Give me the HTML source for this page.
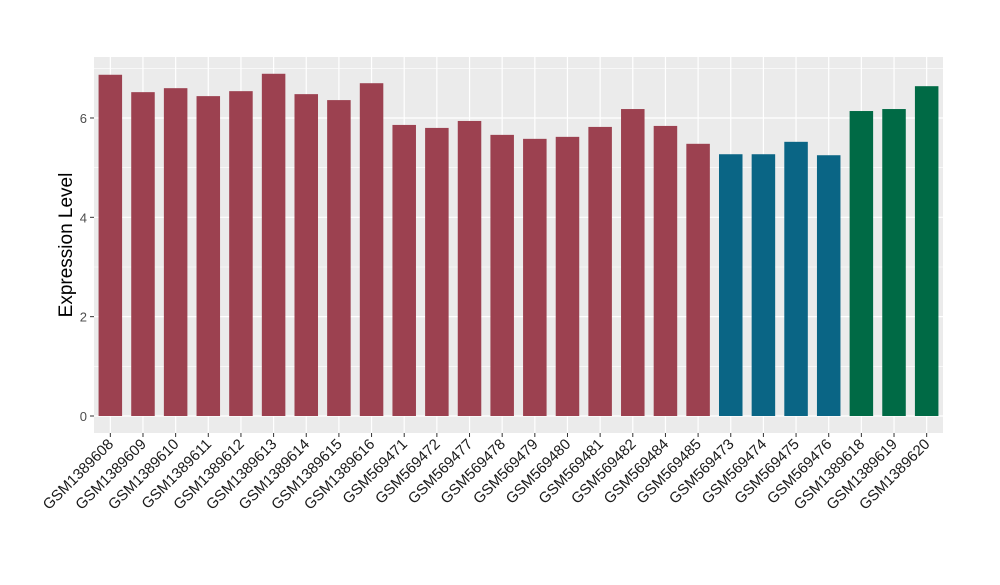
<!DOCTYPE html>
<html><head><meta charset="utf-8"><style>
body{margin:0;background:#fff;font-family:"Liberation Sans",sans-serif;}
</style></head><body>
<svg id="chart" width="1000" height="580" xmlns="http://www.w3.org/2000/svg"></svg>
<script>
const categories=["GSM1389608","GSM1389609","GSM1389610","GSM1389611","GSM1389612","GSM1389613","GSM1389614","GSM1389615","GSM1389616","GSM569471","GSM569472","GSM569477","GSM569478","GSM569479","GSM569480","GSM569481","GSM569482","GSM569484","GSM569485","GSM569473","GSM569474","GSM569475","GSM569476","GSM1389618","GSM1389619","GSM1389620"];
const values=[6.87,6.52,6.60,6.44,6.54,6.89,6.48,6.36,6.70,5.86,5.80,5.94,5.66,5.58,5.62,5.82,6.18,5.84,5.48,5.27,5.27,5.52,5.25,6.14,6.18,6.64];
const groups=[0,0,0,0,0,0,0,0,0,0,0,0,0,0,0,0,0,0,0,1,1,1,1,2,2,2];
const groupColors=["#9c4150","#0a6585","#006a45"];
const yTicks=[0,2,4,6];
const yMinor=[1,3,5,7];

const svg=document.getElementById('chart');
const NS="http://www.w3.org/2000/svg";
const px0=94,px1=943,py0=57,py1=433;
const yScale=v=>416-v*49.67;
const step=(px1-px0)/categories.length;
const xScale=i=>px0+step*(i+0.5);
const barW=step*0.72;
function mk(tag,attrs,parent){const e=document.createElementNS(NS,tag);for(const k in attrs)e.setAttribute(k,attrs[k]);(parent||svg).appendChild(e);return e;}

const panel=mk('rect',{x:px0,y:py0,width:px1-px0,height:py1-py0,fill:'#ebebeb'});


yMinor.forEach(v=>{const y=yScale(v);if(y>py0){const l=mk('line',{x1:px0,x2:px1,y1:y,y2:y,stroke:'#fff','stroke-width':0.6});

}});
yTicks.forEach(v=>{const y=yScale(v);const l=mk('line',{x1:px0,x2:px1,y1:y,y2:y,stroke:'#fff','stroke-width':1.2});


const t=mk('line',{x1:px0-4,x2:px0,y1:y,y2:y,stroke:'#333','stroke-width':1});


const lb=mk('text',{x:px0-7,y:y+5,'text-anchor':'end','font-size':13,fill:'#4d4d4d'});lb.textContent=v;

});
categories.forEach((c,i)=>{const x=xScale(i);
const g=mk('line',{x1:x,x2:x,y1:py0,y2:py1,stroke:'#fff','stroke-width':1.2});


const b=mk('rect',{x:x-barW/2,y:yScale(values[i]),width:barW,height:yScale(0)-yScale(values[i]),fill:groupColors[groups[i]]});


const t=mk('line',{x1:x,x2:x,y1:py1,y2:py1+4,stroke:'#333','stroke-width':1});


const lb=mk('text',{x:x+4,y:py1+12,'text-anchor':'end','font-size':15,fill:'#1a1a1a',transform:`rotate(-45 ${x+4} ${py1+12})`});lb.textContent=c;

});
const yt=mk('text',{x:0,y:0,'text-anchor':'middle','font-size':19,fill:'#000',transform:'translate(72 245) rotate(-90)'});yt.textContent='Expression Level';


</script>
</body></html>
